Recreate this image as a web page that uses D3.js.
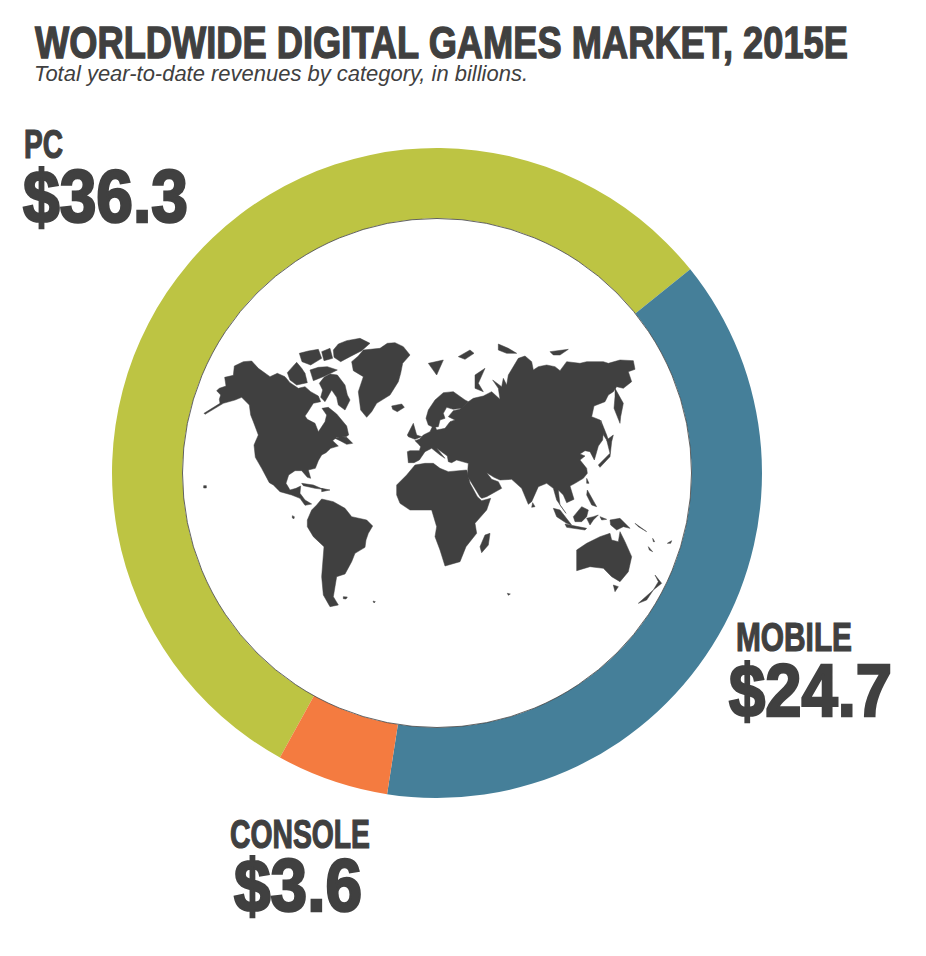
<!DOCTYPE html>
<html>
<head>
<meta charset="utf-8">
<script src="https://cdn.jsdelivr.net/npm/d3@7"></script>
<style>
  html, body { margin: 0; padding: 0; background: #fff; }
  .heavy { font-family: "Liberation Sans Narrow", "Liberation Sans", sans-serif; font-weight: 700; fill: #404040; stroke: #404040; }
</style>
</head>
<body>
<svg id="chart" width="926" height="956"></svg>
<script>
const categories = ['PC', 'MOBILE', 'CONSOLE'];
const revenues = [36.3, 24.7, 3.6];
const colors = ['#bdc443', '#457f99', '#f47b40'];

const title = 'WORLDWIDE DIGITAL GAMES MARKET, 2015E';
const subtitle = 'Total year-to-date revenues by category, in billions.';

// land outlines, in two 3x crop frames
const westLand = [
  [[92,225],[80,212],[88,205],[108,198],[104,172],[130,166],[133,138],[160,125],[185,123],[205,145],[240,170],[262,160],[285,170],[300,188],[325,205],[345,200],[362,215],[385,228],[392,245],[370,250],[352,278],[345,288],[352,298],[375,310],[385,335],[392,325],[405,305],[410,285],[396,265],[415,262],[440,282],[455,300],[470,318],[476,345],[468,350],[440,352],[428,362],[445,378],[422,385],[408,398],[395,405],[385,422],[376,445],[355,450],[362,475],[352,472],[335,452],[315,452],[296,465],[288,490],[300,510],[318,505],[332,498],[330,520],[345,540],[365,552],[345,556],[330,535],[305,525],[270,515],[250,495],[238,488],[215,445],[196,412],[192,375],[205,345],[190,305],[182,285],[178,255],[155,232],[135,240],[100,250],[45,283],[42,280],[90,250],[88,238]],
  [[402,172],[420,162],[442,165],[465,195],[472,225],[480,240],[465,270],[445,255],[440,232],[425,210],[405,245],[392,232],[398,210],[388,190]],
  [[292,158],[308,140],[320,127],[335,145],[345,160],[352,188],[320,195],[300,180]],
  [[430,90],[445,72],[470,62],[510,55],[540,70],[515,92],[480,110],[452,125],[432,112]],
  [[328,100],[355,93],[385,88],[395,115],[362,135],[336,125]],
  [[395,95],[420,85],[428,115],[402,122]],
  [[360,150],[385,142],[412,140],[442,150],[405,168],[370,182]],
  [[485,125],[505,108],[520,90],[570,85],[592,70],[615,68],[640,80],[660,105],[638,130],[632,160],[625,185],[600,225],[560,250],[545,275],[530,292],[512,270],[505,215],[520,170],[490,152]],
  [[435,355],[450,350],[470,352],[488,370],[470,373],[450,362]],
  [[335,490],[370,495],[400,508],[375,505],[340,497]],
  [[395,505],[420,510],[395,515]],
  [[352,600],[365,570],[380,555],[395,537],[430,545],[465,565],[485,590],[530,600],[548,618],[535,640],[528,660],[525,682],[495,700],[485,725],[465,762],[440,770],[435,800],[430,830],[445,855],[420,860],[400,825],[395,770],[402,680],[370,650],[352,620]],
  [[41,497],[49,497],[49,504],[41,504]],
  [[307,587],[313,590],[312,596],[307,594]],
  [[460,830],[472,831],[468,837],[460,836]],
  [[549,843],[556,845],[552,849]]
];
const eastLand = [
  [[55,428],[52,395],[60,392],[88,392],[92,380],[85,372],[75,362],[88,358],[100,345],[120,335],[128,318],[135,318],[140,330],[165,325],[180,305],[195,300],[175,290],[190,272],[210,268],[235,245],[250,235],[280,228],[305,215],[330,238],[325,205],[308,180],[335,200],[340,175],[350,195],[355,165],[385,115],[405,108],[425,125],[430,150],[445,140],[470,135],[495,140],[510,152],[530,125],[570,130],[590,125],[640,125],[655,130],[690,120],[730,122],[735,148],[715,155],[725,185],[700,205],[680,200],[670,215],[655,225],[645,245],[612,258],[605,290],[630,300],[640,330],[638,360],[625,378],[613,420],[600,395],[585,392],[570,402],[585,408],[570,420],[590,445],[592,460],[580,475],[555,490],[540,498],[552,538],[530,548],[520,525],[505,510],[510,555],[528,580],[500,540],[490,505],[470,490],[445,500],[425,545],[415,553],[395,505],[365,478],[330,480],[312,472],[290,458],[305,478],[325,485],[335,505],[290,530],[275,535],[270,530],[232,468],[235,430],[200,420],[185,428],[175,425],[172,408],[140,385],[165,415],[150,405],[125,385],[105,395],[88,420],[72,428]],
  [[108,295],[115,270],[135,240],[160,218],[190,215],[225,240],[235,245],[215,265],[190,268],[170,262],[160,280],[165,295],[150,300],[145,320],[130,322],[115,315]],
  [[675,205],[700,250],[692,290],[690,310],[672,265],[675,230]],
  [[20,525],[20,495],[50,465],[75,435],[105,430],[130,430],[150,445],[175,455],[230,450],[240,490],[262,530],[275,542],[302,535],[290,570],[255,610],[260,640],[228,680],[210,725],[165,738],[150,690],[135,650],[140,620],[125,570],[60,570],[30,550]],
  [[270,680],[285,645],[300,640],[295,675],[275,698]],
  [[52,345],[70,310],[80,345],[95,350],[75,358],[55,350]],
  [[5,258],[35,252],[43,262],[22,275],[8,268]],
  [[205,110],[240,90],[252,100],[225,118]],
  [[255,165],[285,145],[265,190],[280,215],[255,205]],
  [[115,130],[160,120],[140,165]],
  [[325,72],[355,85],[380,100],[350,100],[325,90]],
  [[480,95],[535,88],[510,105],[490,105]],
  [[632,300],[650,345],[660,375],[640,345]],
  [[625,435],[660,400],[650,360],[670,345],[665,365],[660,410],[630,442]],
  [[590,475],[597,490],[590,490]],
  [[592,510],[620,560],[605,555],[590,525]],
  [[428,548],[435,560],[425,562]],
  [[490,565],[510,570],[545,615],[530,610],[500,590]],
  [[525,612],[590,625],[585,630],[530,622]],
  [[550,590],[575,560],[595,570],[590,590],[575,605],[555,605]],
  [[590,595],[610,590],[625,585],[610,600],[600,615]],
  [[660,600],[690,595],[720,625],[700,620],[680,630],[662,615]],
  [[630,590],[650,598],[635,600]],
  [[735,610],[770,635],[745,620]],
  [[775,680],[788,695],[778,690]],
  [[832,670],[845,662],[842,670]],
  [[788,655],[794,665],[790,665]],
  [[560,690],[590,670],[630,650],[660,640],[665,660],[685,665],[690,635],[705,665],[725,710],[715,755],[690,785],[665,770],[640,745],[600,740],[560,752]],
  [[670,795],[685,800],[675,815]],
  [[795,765],[815,790],[790,810],[805,785]],
  [[745,850],[790,810],[770,840]],
  [[352,820],[361,822],[355,826]]
];

const cx = 437, cy = 473, outerR = 325, innerR = 254.5;

const svg = d3.select('#chart');

// ring, PC starts down near the bottom left and runs clockwise
const pie = d3.pie().sort(null)
  .startAngle(208.9 * Math.PI / 180)
  .endAngle((208.9 + 360) * Math.PI / 180);
const arc = d3.arc().innerRadius(innerR).outerRadius(outerR);

const ring = svg.append('g').attr('transform', `translate(${cx}, ${cy})`);
ring.selectAll('path')
  .data(pie(revenues))
  .enter()
  .append('path')
  .attr('d', arc)
  .attr('fill', (d, i) => colors[i]);
ring.append('circle')
  .attr('r', innerR)
  .attr('fill', '#fff')
  .attr('stroke', '#3c3c3c')
  .attr('stroke-width', 0.8);

// world map, one path per polygon so overlaps stay filled
const drawLand = (land, x0, y0) => {
  const path = d3.geoPath(d3.geoIdentity().scale(1 / 3).translate([x0, y0]));
  svg.append('g').selectAll('path')
    .data(land)
    .enter()
    .append('path')
    .attr('d', p => path({ type: 'Polygon', coordinates: [p.concat([p[0]])] }))
    .attr('fill', '#404040')
    .attr('stroke', '#404040')
    .attr('stroke-width', 0.5)
    .attr('stroke-linejoin', 'round');
};
drawLand(westLand, 190, 320);
drawLand(eastLand, 390, 320);

// title block
svg.append('text')
  .attr('class', 'heavy')
  .attr('x', 35).attr('y', 58)
  .attr('font-size', 44)
  .attr('stroke-width', 1.3)
  .attr('textLength', 813)
  .attr('lengthAdjust', 'spacingAndGlyphs')
  .text(title);
svg.append('text')
  .attr('x', 34).attr('y', 81)
  .attr('font-family', '"Liberation Sans", sans-serif')
  .attr('font-style', 'italic')
  .attr('font-size', 22)
  .attr('fill', '#404040')
  .attr('textLength', 494)
  .attr('lengthAdjust', 'spacingAndGlyphs')
  .text(subtitle);

// category labels: name x, value x, baselines, widths
const labelSpots = [
  { nx: 24, ny: 158, nw: 39, vx: 23, vy: 222, vw: 165 },
  { nx: 736, ny: 651, nw: 116, vx: 729, vy: 716, vw: 163 },
  { nx: 230, ny: 848, nw: 140, vx: 234, vy: 911, vw: 128 }
];
categories.forEach((name, i) => {
  const s = labelSpots[i];
  svg.append('text')
    .attr('class', 'heavy')
    .attr('x', s.nx).attr('y', s.ny)
    .attr('font-size', 40)
    .attr('stroke-width', 1.2)
    .attr('textLength', s.nw)
    .attr('lengthAdjust', 'spacingAndGlyphs')
    .text(name);
  svg.append('text')
    .attr('class', 'heavy')
    .attr('x', s.vx).attr('y', s.vy)
    .attr('font-size', 75)
    .attr('stroke-width', 2.6)
    .attr('textLength', s.vw)
    .attr('lengthAdjust', 'spacingAndGlyphs')
    .text('$' + revenues[i].toFixed(1));
});
</script>
</body>
</html>
